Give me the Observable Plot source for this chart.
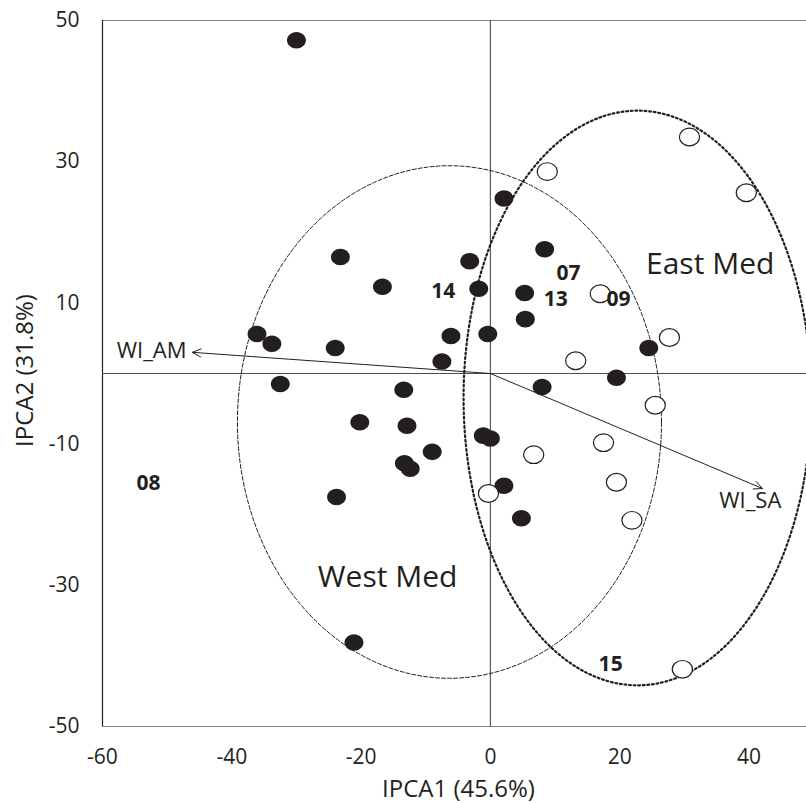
<!DOCTYPE html>
<html><head><meta charset="utf-8">
<script src="https://cdn.jsdelivr.net/npm/d3@7"></script>
<script src="https://cdn.jsdelivr.net/npm/@observablehq/plot@0.6"></script>
<style>
body{margin:0;background:#fff;}
#chart{width:806px;height:803px;}
</style>
</head><body><div id="chart"></div>
<script>
// Axis ticks
const xTicks = [-60, -40, -20, 0, 20, 40];
const yTicks = [-50, -30, -10, 10, 30, 50];
const xDomain = [-60, 48.9];
const yDomain = [-50, 50];
const xTitle = "IPCA1 (45.6%)";
const yTitle = "IPCA2 (31.8%)";

// Filled points (West Med samples)
const westX = [-30.0, 2.1, 8.4, -23.2, -3.2, -16.7, -1.8, 5.3, 5.4, -36.1, -33.8, -6.1, -0.4, -24.0, -7.5, -32.5, -13.4, 8.0, 19.5, 24.5, -20.2, -12.9, -9.0, -1.1, 0.0, -13.3, -12.4, -23.8, 2.1, 4.8, -21.1];
const westY = [47.2, 24.8, 17.6, 16.5, 15.9, 12.3, 12.0, 11.4, 7.7, 5.6, 4.2, 5.3, 5.6, 3.6, 1.7, -1.5, -2.3, -1.9, -0.6, 3.6, -6.9, -7.4, -11.1, -8.8, -9.2, -12.7, -13.5, -17.5, -15.9, -20.5, -38.1];

// Open points (East Med samples)
const eastX = [30.8, 39.6, 8.8, 17.0, 27.7, 13.2, 25.5, 17.5, 6.7, 19.5, -0.3, 21.9, 29.7];
const eastY = [33.5, 25.6, 28.6, 11.3, 5.1, 1.8, -4.5, -9.8, -11.5, -15.4, -17.0, -20.8, -41.9];

// Year labels
const yearLabels = ["07", "13", "09", "14", "08", "15"];
const yearX = [12.1, 10.1, 19.8, -7.3, -52.9, 18.6];
const yearY = [14.2, 10.5, 10.5, 11.6, -15.5, -41.2];

// Group ellipses
const groupNames = ["West Med", "East Med"];
const groupCx = [-6.33, 22.75];
const groupCy = [-6.87, -3.47];
const groupRx = [32.8, 26.9];
const groupRy = [36.3, 40.7];
const groupLabelX = [-15.9, 34.0];
const groupLabelY = [-28.9, 15.4];

// Loading vectors
const loadNames = ["WI_AM", "WI_SA"];
const loadX = [-46.1, 42.1];
const loadY = [3.0, -16.3];
const loadLabelX = [-52.4, 40.2];
const loadLabelY = [3.2, -18.0];

const ink = "#231f20";
const font = '"Open Sans", sans-serif';

const west = westX.map((x, i) => ({x, y: westY[i]}));
const east = eastX.map((x, i) => ({x, y: eastY[i]}));
const years = yearLabels.map((t, i) => ({t, x: yearX[i], y: yearY[i]}));
const loads = loadNames.map((t, i) => ({t, x1: 0, y1: 0, x2: loadX[i], y2: loadY[i], lx: loadLabelX[i], ly: loadLabelY[i]}));
const groupLabels = groupNames.map((t, i) => ({t, x: groupLabelX[i], y: groupLabelY[i]}));
function outline(i) {
  const n = 240, pts = [];
  for (let k = 0; k < n; k++) {
    const a = 2 * Math.PI * k / n;
    pts.push({x: groupCx[i] + groupRx[i] * Math.cos(a), y: groupCy[i] + groupRy[i] * Math.sin(a)});
  }
  return pts;
}

const ellipseSymbol = {
  draw(ctx, size) {
    const r = Math.sqrt(size / Math.PI), rx = r * 1.05, ry = r * 0.92, k = 0.5523;
    ctx.moveTo(rx, 0);
    ctx.bezierCurveTo(rx, ry * k, rx * k, ry, 0, ry);
    ctx.bezierCurveTo(-rx * k, ry, -rx, ry * k, -rx, 0);
    ctx.bezierCurveTo(-rx, -ry * k, -rx * k, -ry, 0, -ry);
    ctx.bezierCurveTo(rx * k, -ry, rx, -ry * k, rx, 0);
    ctx.closePath();
  }
};

const chart = Plot.plot({
  width: 806, height: 803,
  marginLeft: 102, marginRight: 0, marginTop: 20, marginBottom: 77,
  style: {fontFamily: font, background: "white", color: ink, fontSize: "21px"},
  x: {domain: xDomain},
  y: {domain: yDomain},
  marks: [
    Plot.axisX({ticks: xTicks, tickSize: 0, tickPadding: 23, tickFormat: d => String(d), label: null, fontSize: 21, fill: ink}),
    Plot.axisY({ticks: yTicks, tickSize: 0, tickPadding: 23, tickFormat: d => String(d), label: null, fontSize: 21, fill: ink}),
    Plot.ruleY(yDomain, {stroke: "#7f7f7f", strokeWidth: 1.2}),
    Plot.ruleX([xDomain[0]], {stroke: ink, strokeWidth: 1.2}),
    Plot.ruleX([0], {stroke: "#4d4d4d", strokeWidth: 1.1}),
    Plot.ruleY([0], {stroke: "#4d4d4d", strokeWidth: 1.1}),
    Plot.line(outline(0), {x: "x", y: "y", curve: "linear-closed", stroke: ink, strokeWidth: 1, strokeDasharray: "4,2", clip: true}),
    Plot.line(outline(1), {x: "x", y: "y", curve: "linear-closed", stroke: ink, strokeWidth: 2.2, strokeDasharray: "1.8,2.8", clip: true}),
    Plot.arrow(loads, {x1: "x1", y1: "y1", x2: "x2", y2: "y2", stroke: ink, strokeWidth: 1, headLength: 14, headAngle: 50}),
    Plot.dot(west, {x: "x", y: "y", r: 9, symbol: ellipseSymbol, fill: ink, stroke: "none"}),
    Plot.dot(east, {x: "x", y: "y", r: 9.6, symbol: ellipseSymbol, fill: "white", stroke: ink, strokeWidth: 1.2}),
    Plot.text(years, {x: "x", y: "y", text: "t", fontWeight: "bold", fontSize: 21, fill: ink, lineAnchor: "middle"}),
    Plot.text(loads, {x: "lx", y: "ly", text: "t", fontSize: 22, fill: ink, lineAnchor: "middle"}),
    Plot.text(groupLabels, {x: "x", y: "y", text: "t", fontSize: 30, fill: ink, lineAnchor: "middle"}),
    Plot.text([xTitle], {frameAnchor: "bottom", textAnchor: "middle", dx: 4, dy: 63, lineAnchor: "middle", fontSize: 24, fill: ink}),
    Plot.text([yTitle], {frameAnchor: "left", textAnchor: "middle", rotate: -90, dx: -77, dy: -3, lineAnchor: "middle", fontSize: 24, fill: ink})
  ]
});
document.getElementById("chart").appendChild(chart);
</script>
</body></html>
